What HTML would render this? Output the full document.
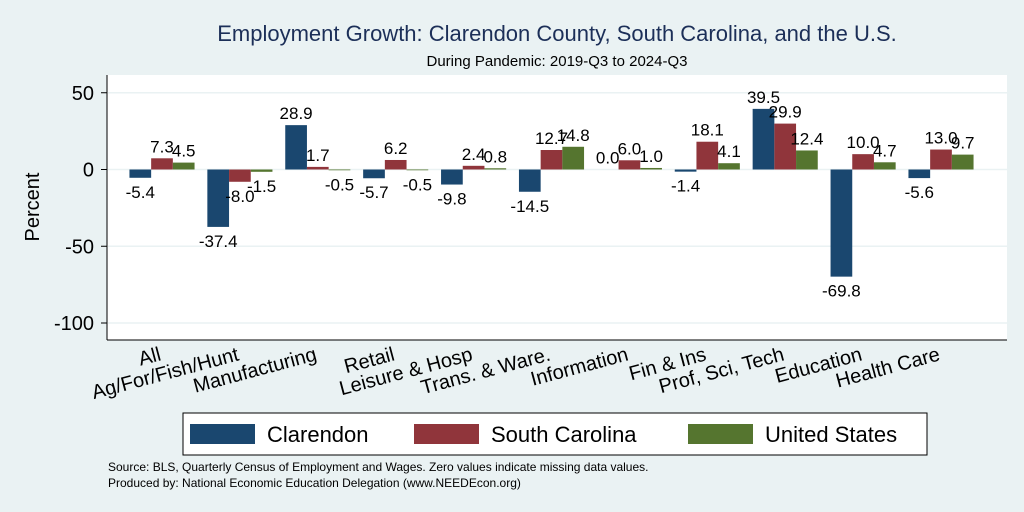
<!DOCTYPE html>
<html><head><meta charset="utf-8"><style>
body{margin:0;background:#eaf2f3;}
svg{display:block;font-family:"Liberation Sans",Arial,sans-serif;}
</style></head><body>
<svg id="c" width="1024" height="512" xmlns="http://www.w3.org/2000/svg">
<rect width="1024" height="512" fill="#eaf2f3"/>
<text x="557" y="41" font-size="22" fill="#1c2f58" text-anchor="middle">Employment Growth: Clarendon County, South Carolina, and the U.S.</text>
<text x="557" y="66" font-size="15" fill="#000" text-anchor="middle">During Pandemic: 2019-Q3 to 2024-Q3</text>
<rect x="107" y="75" width="900" height="265" fill="#fff"/>
<g id="grid"></g>
<g id="bars"></g>
<line x1="107" y1="75" x2="107" y2="340" stroke="#000" stroke-width="1"/>
<line x1="107" y1="340" x2="1007" y2="340" stroke="#000" stroke-width="1"/>
<text transform="translate(39,207) rotate(-90)" font-size="20" text-anchor="middle">Percent</text>
<g>
<rect x="183" y="413" width="744" height="42" fill="#fff" stroke="#000"/>
<rect x="190" y="424" width="65" height="20" fill="#1a476f"/>
<text x="267" y="442" font-size="22">Clarendon</text>
<rect x="414" y="424" width="65" height="20" fill="#90353b"/>
<text x="491" y="442" font-size="22">South Carolina</text>
<rect x="688" y="424" width="65" height="20" fill="#55752f"/>
<text x="765" y="442" font-size="22">United States</text>
</g>
<text x="108" y="471" font-size="12">Source: BLS, Quarterly Census of Employment and Wages. Zero values indicate missing data values.</text>
<text x="108" y="487" font-size="12">Produced by: National Economic Education Delegation (www.NEEDEcon.org)</text>
</svg>
<script>
const categories=["All","Ag/For/Fish/Hunt","Manufacturing","Retail","Leisure & Hosp","Trans. & Ware.","Information","Fin & Ins","Prof, Sci, Tech","Education","Health Care"];
const clarendon=[-5.4,-37.4,28.9,-5.7,-9.8,-14.5,0.0,-1.4,39.5,-69.8,-5.6];
const southCarolina=[7.3,-8.0,1.7,6.2,2.4,12.7,6.0,18.1,29.9,10.0,13.0];
const unitedStates=[4.5,-1.5,-0.5,-0.5,0.8,14.8,1.0,4.1,12.4,4.7,9.7];
const yTicks=[50,0,-50,-100];
const seriesList=[clarendon,southCarolina,unitedStates];
const seriesNames=["clarendon","south-carolina","united-states"];
const colors=["#1a476f","#90353b","#55752f"];
const NS="http://www.w3.org/2000/svg";
const y=v=>169.5-v*1.535;
const xc=i=>162+i*77.9;
const bw=21.7;
const svg=document.getElementById('c'),grid=document.getElementById('grid'),bars=document.getElementById('bars');
function mk(t,a,p){const e=document.createElementNS(NS,t);for(const k in a)e.setAttribute(k,a[k]);(p||svg).appendChild(e);return e;}
yTicks.forEach(t=>{
 const g=mk('line',{x1:108,x2:1007,y1:y(t),y2:y(t),stroke:'#eaf2f3','stroke-width':1.5},grid);
 
 
 const tk=mk('line',{x1:101,x2:107,y1:y(t),y2:y(t),stroke:'#000'},grid);
 
 
 const l=mk('text',{x:94,y:y(t)+7,'font-size':20,'text-anchor':'end'},grid);
 l.textContent=t;
 
 
});
categories.forEach((c,i)=>{
 seriesList.forEach((s,j)=>{
  const v=s[i],x=xc(i)+(j-1.5)*bw;
  const r=mk('rect',{x:x,y:Math.min(y(v),y(0)),width:bw,height:Math.abs(y(v)-y(0)),fill:colors[j]},bars);
  
  
  const ly=v>=0?y(v)-6:y(v)+20;
  const t=mk('text',{x:x+bw/2,y:ly,'font-size':17,'text-anchor':'middle'},bars);
  t.textContent=v.toFixed(1);
  
  
 });
 const lab=mk('text',{transform:`translate(${xc(i)},360) rotate(-15)`,'font-size':20,'text-anchor':'end'});
 lab.textContent=c;
 
 
});
</script>
</body></html>
